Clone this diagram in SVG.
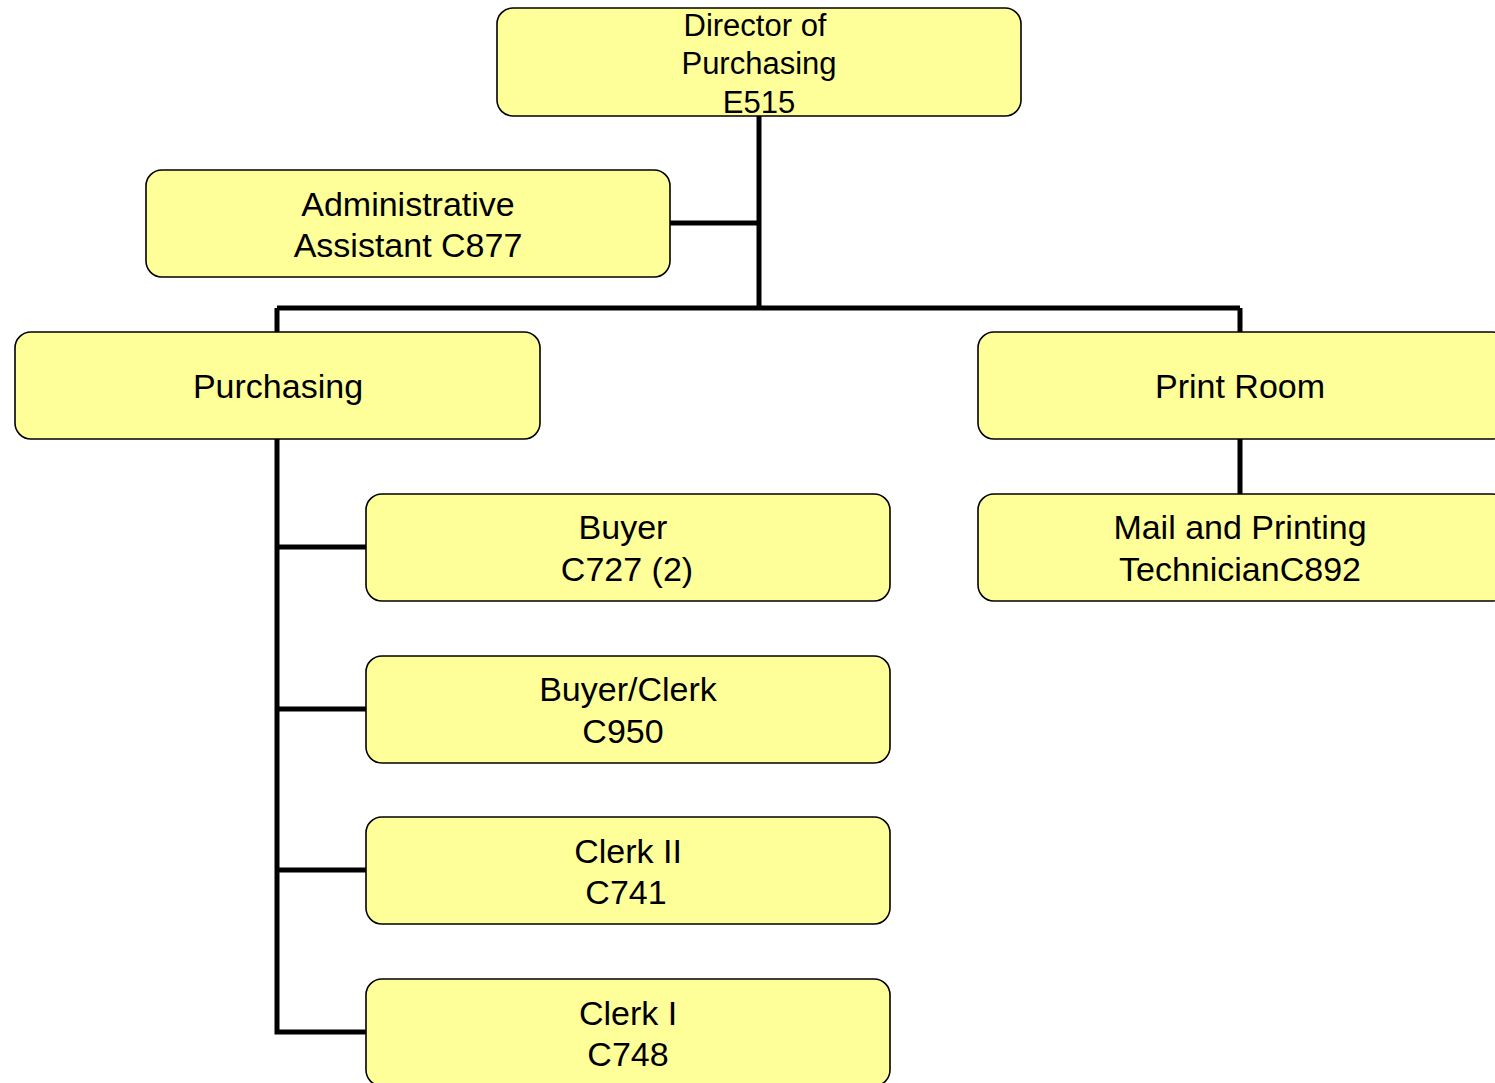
<svg xmlns="http://www.w3.org/2000/svg" width="1495" height="1083" viewBox="0 0 1495 1083">
<style>
.box{fill:#FFFF99;stroke:#000;stroke-width:1.6}
.t{font-family:"Liberation Sans",Arial,sans-serif;font-size:34px;fill:#000;text-anchor:middle}
.ts{font-family:"Liberation Sans",Arial,sans-serif;font-size:31px;fill:#000;text-anchor:middle}
.c{stroke:#000;stroke-width:5;fill:none}
</style>
<rect width="1495" height="1083" fill="#fff"/>
<g id="connectors">
<path class="c" d="M759,116 V308 M670,223 H759 M277,308 H1240 M277,308 V332 M1240,308 V332 M1240,439 V494 M277,439 V1032 H366 M277,547 H366 M277,709 H366 M277,870 H366"/>
</g>
<g id="director"><rect class="box" x="497" y="8" width="524" height="108" rx="16"/>
<text class="ts" x="755" y="36">Director of</text><text class="ts" x="759" y="74">Purchasing</text><text class="ts" x="759" y="113">E515</text></g>
<g id="admin"><rect class="box" x="146" y="170" width="524" height="107" rx="16"/>
<text class="t" x="408" y="216">Administrative</text><text class="t" x="408" y="257">Assistant C877</text></g>
<g id="purchasing"><rect class="box" x="15" y="332" width="525" height="107" rx="16"/>
<text class="t" x="278" y="398">Purchasing</text></g>
<g id="printroom"><rect class="box" x="978" y="332" width="530" height="107" rx="16"/>
<text class="t" x="1240" y="398">Print Room</text></g>
<g id="mail"><rect class="box" x="978" y="494" width="530" height="107" rx="16"/>
<text class="t" x="1240" y="539">Mail and Printing</text><text class="t" x="1240" y="581">TechnicianC892</text></g>
<g id="buyer"><rect class="box" x="366" y="494" width="524" height="107" rx="16"/>
<text class="t" x="623" y="539">Buyer</text><text class="t" x="627" y="581">C727 (2)</text></g>
<g id="buyerclerk"><rect class="box" x="366" y="656" width="524" height="107" rx="16"/>
<text class="t" x="628" y="701">Buyer/Clerk</text><text class="t" x="623" y="743">C950</text></g>
<g id="clerk2"><rect class="box" x="366" y="817" width="524" height="107" rx="16"/>
<text class="t" x="628" y="863">Clerk II</text><text class="t" x="626" y="904">C741</text></g>
<g id="clerk1"><rect class="box" x="366" y="979" width="524" height="107" rx="16"/>
<text class="t" x="628" y="1025">Clerk I</text><text class="t" x="628" y="1066">C748</text></g>
</svg>
